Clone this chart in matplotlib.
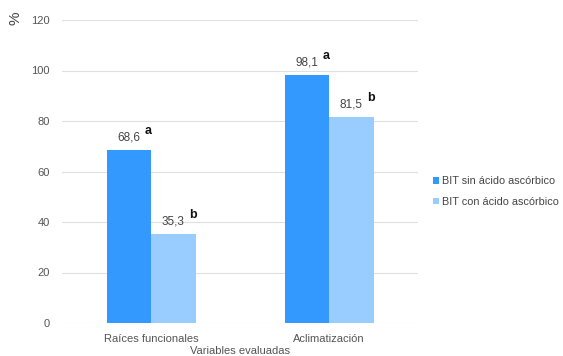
import matplotlib
matplotlib.use("Agg")
import matplotlib.pyplot as plt
import numpy as np

categories = ["Raíces funcionales", "Aclimatización"]
series_names = ["BIT sin ácido ascórbico", "BIT con ácido ascórbico"]
sin_vals = [68.6, 98.1]
con_vals = [35.3, 81.5]
sin_letters = ["a", "a"]
con_letters = ["b", "b"]
yticks = [0, 20, 40, 60, 80, 100, 120]

plt.rcParams['font.family'] = ['Liberation Sans', 'DejaVu Sans']

fig = plt.figure(figsize=(5.63, 3.56), dpi=100)
ax = fig.add_axes([62/563, 1-323/356, 356/563, 303/356])

x = np.arange(len(categories))
w = 0.25
c1 = "#3399ff"
c2 = "#99ccff"
ax.bar(x - w/2, sin_vals, w, color=c1, label=series_names[0], zorder=3)
ax.bar(x + w/2, con_vals, w, color=c2, label=series_names[1], zorder=3)

for pos, vals, letters in ((x - w/2, sin_vals, sin_letters), (x + w/2, con_vals, con_letters)):
    for xi, v, l in zip(pos, vals, letters):
        ax.text(xi, v + 2.5, f"{v:.1f}".replace(".", ","), ha="center", va="bottom",
                fontsize=8.5, color="#444444")
        ax.text(xi + 0.09, v + 5.2, l, ha="left", va="bottom", fontsize=9,
                color="#111111", fontweight="bold")

ax.set_xlim(-0.5, 1.5)
ax.set_ylim(0, 120)
ax.set_yticks(yticks)
ax.set_xticks(x)
ax.set_xticklabels(categories)
ax.grid(axis="y", color="#e0e0e0", linewidth=0.8, zorder=0)
for s in ax.spines.values():
    s.set_visible(False)
ax.tick_params(axis="both", length=0, labelsize=8, labelcolor="#555555", pad=9)
ax.tick_params(axis="x", pad=8)

fig.text(16/563, 1-18/356, "%", rotation=90, ha="center", va="center", fontsize=11, color="#444444")
fig.text(240/563, 1-351/356, "Variables evaluadas", ha="center", va="center", fontsize=8, color="#555555")

ax.legend(loc="center left", bbox_to_anchor=(1.03, 0.434), frameon=False, fontsize=7.8,
          handlelength=0.55, handleheight=0.55, handletextpad=0.3, labelspacing=1.0,
          labelcolor="#444444", borderaxespad=0)

fig.savefig("out.png", dpi=100)
